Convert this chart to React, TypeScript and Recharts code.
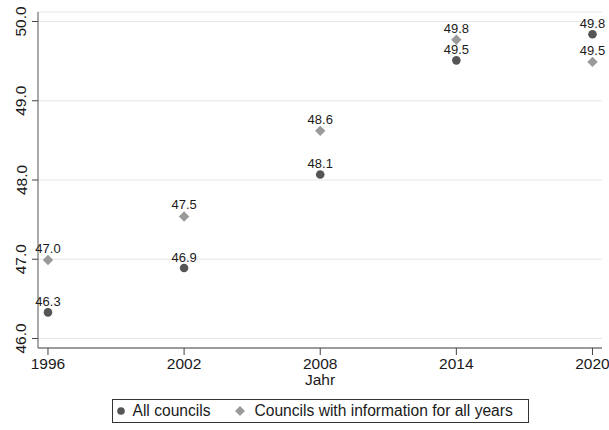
import React from 'react';
import { ScatterChart, Scatter, XAxis, YAxis, CartesianGrid, Legend, Label } from 'recharts';

const years = [1996, 2002, 2008, 2014, 2020];
const allCouncils = [46.33, 46.89, 48.07, 49.51, 49.84];
const councilsAllYears = [46.99, 47.54, 48.62, 49.77, 49.49];
const yTicks = [46, 47, 48, 49, 50];

const allData = years.map((year, i) => ({ year, value: allCouncils[i] }));
const fixedData = years.map((year, i) => ({ year, value: councilsAllYears[i] }));

const FONT = '"Liberation Sans", Arial, Helvetica, sans-serif';
const DARK = '#555555';
const LIGHT = '#9a9a9a';
const TEXT = '#1a1a1a';
const FS = 15.5;

const PointLabel = ({ x, y, v }: { x: number; y: number; v: number }) => (
  <text x={x} y={y} textAnchor="middle" fontSize={13} fontFamily={FONT} fill={TEXT}>
    {v.toFixed(1)}
  </text>
);

const CircleShape = (props: any) => {
  const { cx, cy, payload } = props;
  return (
    <g>
      <circle cx={cx} cy={cy} r={4.3} fill={DARK} />
      <PointLabel x={cx} y={cy - 6} v={payload.value} />
    </g>
  );
};

const DiamondShape = (props: any) => {
  const { cx, cy, payload } = props;
  const d = 5.2;
  return (
    <g>
      <polygon points={`${cx},${cy - d} ${cx + d},${cy} ${cx},${cy + d} ${cx - d},${cy}`} fill={LIGHT} />
      <PointLabel x={cx} y={cy - 7} v={payload.value} />
    </g>
  );
};

const XTick = (props: any) => {
  const { x, y, payload } = props;
  return (
    <text x={x} y={y + 14} textAnchor="middle" fontSize={FS} fontFamily={FONT} fill={TEXT}>
      {payload.value}
    </text>
  );
};

const YTick = (props: any) => {
  const { y, payload } = props;
  return (
    <text
      x={26.5}
      y={y}
      transform={`rotate(-90, 26.5, ${y})`}
      textAnchor="middle"
      fontSize={FS}
      fontFamily={FONT}
      fill={TEXT}
    >
      {Number(payload.value).toFixed(1)}
    </text>
  );
};

const AxisTitle = (props: any) => {
  const vb = props.viewBox || { x: 38, y: 348, width: 564, height: 51 };
  return (
    <text x={vb.x + vb.width / 2} y={vb.y + 37} textAnchor="middle" fontSize={FS} fontFamily={FONT} fill={TEXT}>
      Jahr
    </text>
  );
};

const LegendBox = () => (
  <div
    style={{
      position: 'relative',
      boxSizing: 'border-box',
      height: 24,
      width: 417,
      border: '1px solid #333',
      background: '#fff',
      fontFamily: FONT,
      fontSize: 15.6,
      lineHeight: '22px',
      color: TEXT,
      whiteSpace: 'nowrap',
    }}
  >
    <svg width={10} height={10} style={{ position: 'absolute', left: 3, top: 6 }}>
      <circle cx={5} cy={5} r={3.8} fill={DARK} />
    </svg>
    <span style={{ position: 'absolute', left: 19.5, top: 0 }}>All councils</span>
    <svg width={12} height={12} style={{ position: 'absolute', left: 121, top: 5 }}>
      <polygon points="6,1 11,6 6,11 1,6" fill={LIGHT} />
    </svg>
    <span style={{ position: 'absolute', left: 141.5, top: 0 }}>Councils with information for all years</span>
  </div>
);

export default function App() {
  return (
    <div style={{ position: 'absolute', left: 0, top: 0, width: 609, height: 430, background: '#fff' }}>
      <ScatterChart width={609} height={430} margin={{ top: 12, right: 7, left: 0, bottom: 7 }}>
        <CartesianGrid vertical={false} stroke="#e6e6e6" strokeWidth={1} />
        <XAxis
          type="number"
          dataKey="year"
          domain={[1995.56, 2020.42]}
          ticks={years}
          interval={0}
          tickSize={7}
          tickMargin={0}
          height={51}
          stroke="#444"
          tickLine={{ stroke: '#444' }}
          tick={<XTick />}
        >
          <Label content={<AxisTitle />} />
        </XAxis>
        <YAxis
          type="number"
          dataKey="value"
          domain={[45.88, 50.12]}
          ticks={yTicks}
          interval={0}
          tickSize={6}
          width={38}
          stroke="#555"
          tickLine={{ stroke: '#444' }}
          tick={<YTick />}
        />
        <Legend
          verticalAlign="bottom"
          content={<LegendBox />}
          wrapperStyle={{ left: 112, bottom: 7, width: 417, height: 24 }}
        />
        <Scatter name="All councils" data={allData} shape={<CircleShape />} isAnimationActive={false} />
        <Scatter name="Councils with information for all years" data={fixedData} shape={<DiamondShape />} isAnimationActive={false} />
      </ScatterChart>
    </div>
  );
}
